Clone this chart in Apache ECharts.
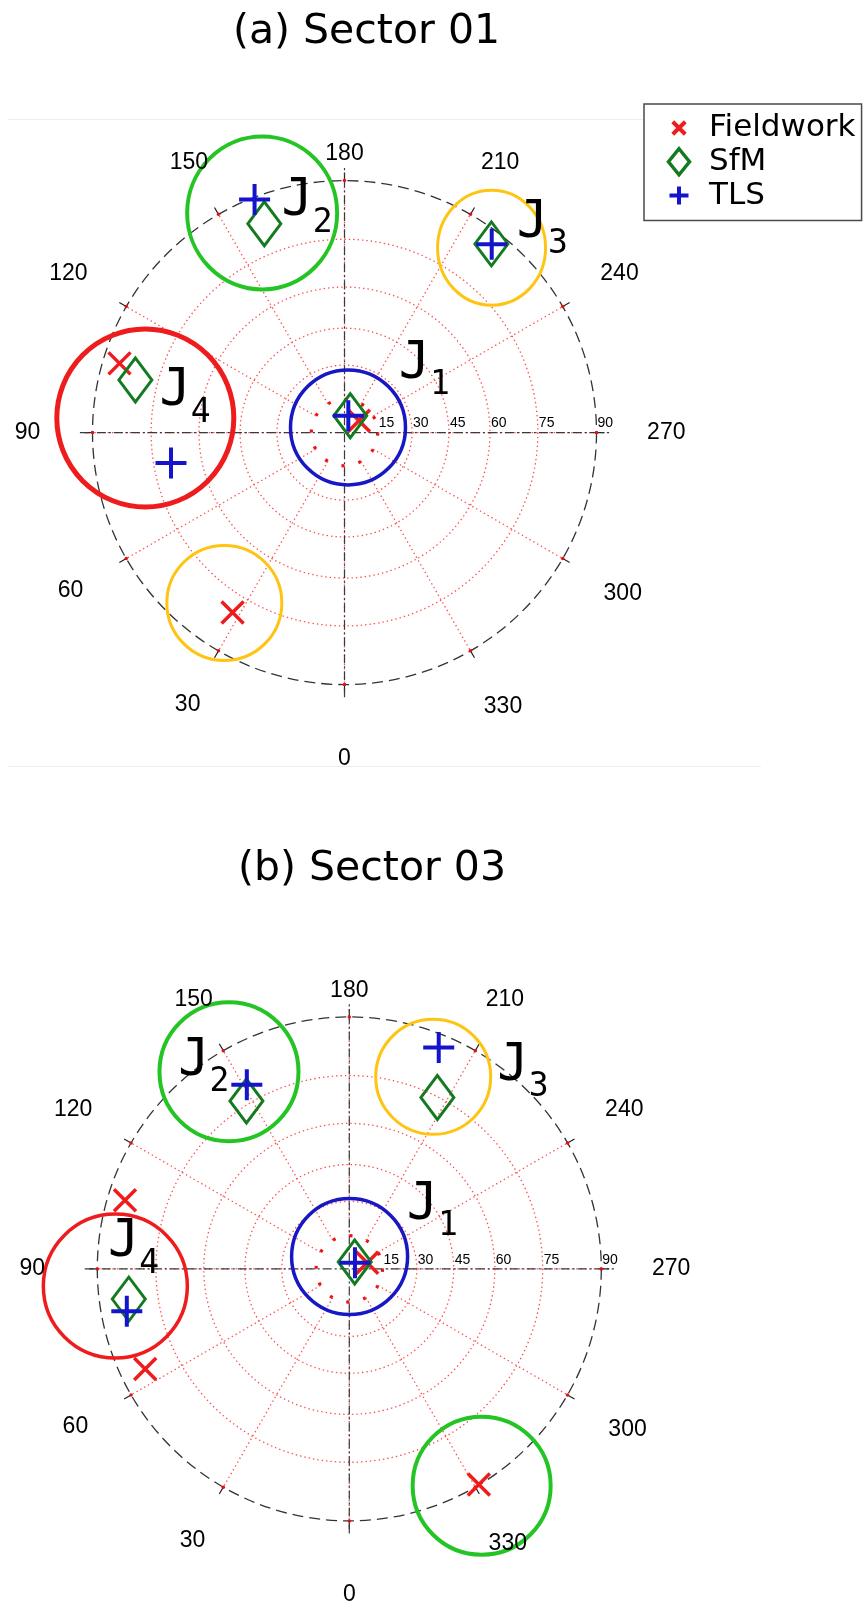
<!DOCTYPE html>
<html>
<head>
<meta charset="utf-8">
<title>Joint set poles - Sector 01 and Sector 03</title>
<script src="https://cdn.jsdelivr.net/npm/echarts@6.0.0/dist/echarts.min.js"></script>
<style>
  html, body { margin: 0; padding: 0; background: #ffffff; }
  #chart { width: 865px; height: 1605px; }
</style>
</head>
<body>
<div id="chart"></div>
<script>
// Stereonet graticule: azimuth ticks and dip rings (degrees)
const angleTicks = [0, 30, 60, 90, 120, 150, 180, 210, 240, 270, 300, 330];
const dipRings = [15, 30, 45, 60, 75, 90];
const methodNames = ['Fieldwork', 'SfM', 'TLS'];
const sectorTitles = ['(a) Sector 01', '(b) Sector 03'];

// Poles of the joint sets, [azimuth, dip] in degrees
const sector01Fieldwork = [[230.6, 8.5], [107.1, 86.1], [31.9, 80.1]];
const sector01SfM = [[198.9, 8.1], [159.0, 83.2], [217.9, 87.0], [104.1, 81.1]];
const sector01TLS = [[192.7, 7.9], [158.9, 89.5], [218.0, 87.0], [80.1, 69.9]];

const sector03Fieldwork = [[251.0, 8.6], [107.0, 85.9], [63.9, 84.1], [329.0, 89.9]];
const sector03SfM = [[218.0, 4.0], [148.5, 76.0], [207.2, 74.8], [82.2, 82.9]];
const sector03TLS = [[222.6, 3.8], [150.9, 79.8], [202.0, 86.9], [79.2, 83.9]];

// Joint set annotations: subscripts, label anchors and cluster outlines, [azimuth, dip]
const jointSetIds = ['1', '2', '3', '4'];
const sector01SetLabelAt = [[230.7, 33.2], [164.3, 81.7], [223.1, 91.3], [96.3, 71.7]];
const sector03SetLabelAt = [[235.3, 33.0], [138.2, 89.7], [219.9, 86.5], [91.3, 86.6]];
const sector01Clusters = [[213.9, 2.85], [159.45, 85.9], [218.5, 86.3], [94.2, 76.8], [35.2, 79.2]];
const sector03Clusters = [[181.4, 5.6], [148.6, 85.0], [203.6, 79.5], [85.8, 85.9], [328.6, 90.46]];

// ---------------------------------------------------------------------------
const RED = '#ee1c1c';
const DARK_GREEN = '#137a1f';
const BLUE = '#1414cc';
const LIME = '#24c424';
const AMBER = '#ffc312';
const GRID_RED = '#ff4d4d';

// equal-angle (stereographic) radius of a dip, 0..1
const stereo = dip => Math.tan(dip * Math.PI / 360);
const toPolar = ([az, dip]) => [stereo(dip), az];

// distance of each azimuth label from the centre, in net radii
const tickLabelReach = {0: 1.294, 30: 1.245, 60: 1.255, 90: 1.258, 120: 1.265, 150: 1.235,
  180: 1.105, 210: 1.235, 240: 1.26, 270: 1.277, 300: 1.275, 330: 1.258};
const crossReach = 1.05;

const panels = [
  {
    center: [344.5, 432.6], titleAt: [366.5, 32.4], title: sectorTitles[0],
    fieldwork: sector01Fieldwork, sfm: sector01SfM, tls: sector01TLS,
    labelAt: sector01SetLabelAt, clusters: sector01Clusters,
    clusterLook: [
      {size: 115, color: '#1717c4', width: 3.5},
      {size: [150, 153], color: LIME, width: 4},
      {size: [108, 115], color: AMBER, width: 3},
      {size: [177, 178], color: RED, width: 5},
      {size: 115, color: AMBER, width: 3}
    ]
  },
  {
    center: [349.3, 1268.9], titleAt: [372, 869.1], title: sectorTitles[1],
    fieldwork: sector03Fieldwork, sfm: sector03SfM, tls: sector03TLS,
    labelAt: sector03SetLabelAt, clusters: sector03Clusters,
    clusterLook: [
      {size: 116, color: '#1717c4', width: 3.5},
      {size: 139, color: LIME, width: 4},
      {size: 115, color: AMBER, width: 3},
      {size: 144, color: RED, width: 3.5},
      {size: 138, color: LIME, width: 4}
    ]
  }
];

const X_PATH = 'path://M0,0L10,10M10,0L0,10';
const PLUS_PATH = 'path://M0,5L10,5M5,0L5,10';
const SOLID = {opacity: 1};

function panelSeries(p, i) {
  const base = {coordinateSystem: 'polar', polarIndex: i, silent: true, animation: false};
  const textOnly = Object.assign({}, base, {
    type: 'scatter', z: 7, clip: false, symbol: 'circle', symbolSize: 0,
    itemStyle: {color: 'transparent', opacity: 1}
  });
  return [
    // dip rings
    Object.assign({}, base, {
      type: 'custom', z: 1,
      data: dipRings.slice(0, -1).map(d => [stereo(d), 0, d]),
      renderItem(params, api) {
        const c = api.coord([0, 0]);
        const e = api.coord([api.value(0), 0]);
        const r = Math.hypot(e[0] - c[0], e[1] - c[1]);
        const inner = api.value(2) === dipRings[0];
        const step = 2 * Math.PI * r / 12;
        return {
          type: 'circle', shape: {cx: c[0], cy: c[1], r},
          style: inner
            ? {fill: 'none', stroke: '#f01010', lineWidth: 3.2, lineDash: [3, step - 3]}
            : {fill: 'none', stroke: GRID_RED, lineWidth: 1.3, lineDash: [1.4, 3]}
        };
      }
    }),
    // azimuth spokes
    Object.assign({}, base, {
      type: 'custom', z: 1,
      data: angleTicks.map(a => [stereo(dipRings[0]), a]),
      renderItem(params, api) {
        const a = api.value(1);
        const p0 = api.coord([api.value(0), a]);
        const p1 = api.coord([1, a]);
        return {type: 'line', shape: {x1: p0[0], y1: p0[1], x2: p1[0], y2: p1[1]},
          style: {stroke: GRID_RED, lineWidth: 1.3, lineDash: [1.4, 3]}};
      }
    }),
    // N-S and E-W diameters
    Object.assign({}, base, {
      type: 'custom', z: 2,
      data: [[crossReach, 0], [crossReach, 90]],
      renderItem(params, api) {
        const a = api.value(1);
        const p0 = api.coord([api.value(0), a]);
        const p1 = api.coord([api.value(0), a + 180]);
        return {type: 'line', shape: {x1: p0[0], y1: p0[1], x2: p1[0], y2: p1[1]},
          style: {stroke: '#3a3a3a', lineWidth: 1.2, lineDash: [9, 3, 2, 3]}};
      }
    }),
    // red ticks on the primitive circle
    Object.assign({}, base, {
      type: 'scatter', z: 2, clip: false, symbol: 'circle', symbolSize: 3.5,
      itemStyle: {color: '#e01010', opacity: 1},
      data: angleTicks.map(a => [1, a])
    }),
    // cluster outlines
    Object.assign({}, base, {
      type: 'scatter', z: 3, clip: false, symbol: 'circle',
      data: p.clusters.map((c, k) => ({
        value: toPolar(c),
        symbolSize: p.clusterLook[k].size,
        itemStyle: {color: 'transparent', borderColor: p.clusterLook[k].color,
          borderWidth: p.clusterLook[k].width, opacity: 1}
      }))
    }),
    // measured poles
    Object.assign({}, base, {
      name: methodNames[0], type: 'scatter', z: 4, clip: false,
      symbol: X_PATH, symbolSize: 22, symbolKeepAspect: true,
      itemStyle: {color: 'transparent', borderColor: RED, borderWidth: 3.5, opacity: 1},
      data: p.fieldwork.map(toPolar)
    }),
    Object.assign({}, base, {
      name: methodNames[1], type: 'scatter', z: 5, clip: false,
      symbol: 'diamond', symbolSize: [33, 44], symbolKeepAspect: true,
      itemStyle: {color: 'transparent', borderColor: DARK_GREEN, borderWidth: 3, opacity: 1},
      data: p.sfm.map(toPolar)
    }),
    Object.assign({}, base, {
      name: methodNames[2], type: 'scatter', z: 6, clip: false,
      symbol: PLUS_PATH, symbolSize: 31, symbolKeepAspect: true,
      itemStyle: {color: 'transparent', borderColor: BLUE, borderWidth: 4, opacity: 1},
      data: p.tls.map(toPolar)
    }),
    // joint set names J1..J4
    Object.assign({}, textOnly, {
      data: p.labelAt.map((at, k) => ({value: toPolar(at), name: jointSetIds[k]})),
      label: {
        show: true, position: [0, 0], offset: [-4, -47],
        formatter: d => '{j|J}{s|' + d.name + '}',
        rich: {
          j: {fontFamily: 'DejaVu Sans Mono', fontSize: 52, lineHeight: 64, verticalAlign: 'top', color: '#000', opacity: 1},
          s: {fontFamily: 'DejaVu Sans Mono', fontSize: 33, lineHeight: 33, verticalAlign: 'bottom', color: '#000', opacity: 1}
        }
      }
    }),
    // azimuth labels
    Object.assign({}, textOnly, {
      data: angleTicks.map(a => ({value: [tickLabelReach[a], a], name: String(a)})),
      label: {show: true, position: 'inside', formatter: '{b}', opacity: 1,
        fontFamily: 'Liberation Sans', fontSize: 23, color: '#000'}
    }),
    // dip ring labels along the 270 direction
    Object.assign({}, textOnly, {
      data: dipRings.map(d => ({value: [stereo(d), 270], name: String(d)})),
      label: {show: true, position: [0, 0], offset: [1, -2], align: 'left', verticalAlign: 'bottom',
        opacity: 1, formatter: '{b}', fontFamily: 'Liberation Sans', fontSize: 14, color: '#000'}
    })
  ];
}

const chart = echarts.init(document.getElementById('chart'), null, {renderer: 'canvas'});

chart.setOption({
  backgroundColor: '#ffffff',
  animation: false,
  polar: panels.map(p => ({center: p.center, radius: 252})),
  angleAxis: panels.map((p, i) => ({
    polarIndex: i, type: 'value', min: 0, max: 360, interval: 30,
    startAngle: 270, clockwise: true,
    axisLine: {show: true, lineStyle: {color: '#333', width: 1.3, type: [11, 6]}},
    axisTick: {show: true, inside: false, length: 8, lineStyle: {color: '#222', width: 1.2}},
    axisLabel: {show: false},
    splitLine: {show: false}
  })),
  radiusAxis: panels.map((p, i) => ({
    polarIndex: i, type: 'value', min: 0, max: 1,
    axisLine: {show: false}, axisTick: {show: false}, axisLabel: {show: false}, splitLine: {show: false}
  })),
  legend: {
    orient: 'vertical', left: 644, top: 104,
    padding: [8, 6, 9, 8], itemGap: 2, itemWidth: 50, itemHeight: 28,
    borderColor: '#4a4a4a', borderWidth: 1.5, backgroundColor: '#ffffff',
    selectedMode: false,
    textStyle: {fontFamily: 'DejaVu Sans', fontSize: 31, lineHeight: 30, color: '#000'},
    data: [
      {name: methodNames[0], icon: 'path://M0,0M50,28M18.75,7.75L31.25,20.25M31.25,7.75L18.75,20.25',
        itemStyle: {borderWidth: 4}},
      {name: methodNames[1], icon: 'path://M0,0M50,28M25,1L35.5,14L25,27L14.5,14Z',
        itemStyle: {borderWidth: 3.5}},
      {name: methodNames[2], icon: 'path://M0,0M50,28M15.5,14L34.5,14M25,5L25,23',
        itemStyle: {borderWidth: 4}}
    ]
  },
  graphic: [
    {type: 'line', silent: true, shape: {x1: 8, y1: 119.5, x2: 643, y2: 119.5},
      style: {stroke: '#eeeeee', lineWidth: 1}},
    {type: 'line', silent: true, shape: {x1: 8, y1: 766.5, x2: 761, y2: 766.5},
      style: {stroke: '#eeeeee', lineWidth: 1}}
  ].concat(panels.map(p => ({
    type: 'text', silent: true, x: p.titleAt[0], y: p.titleAt[1],
    style: {text: p.title, font: '41px "DejaVu Sans"', fill: '#000',
      textAlign: 'center', textVerticalAlign: 'middle'}
  }))),
  series: panels.flatMap(panelSeries)
});
</script>
</body>
</html>
